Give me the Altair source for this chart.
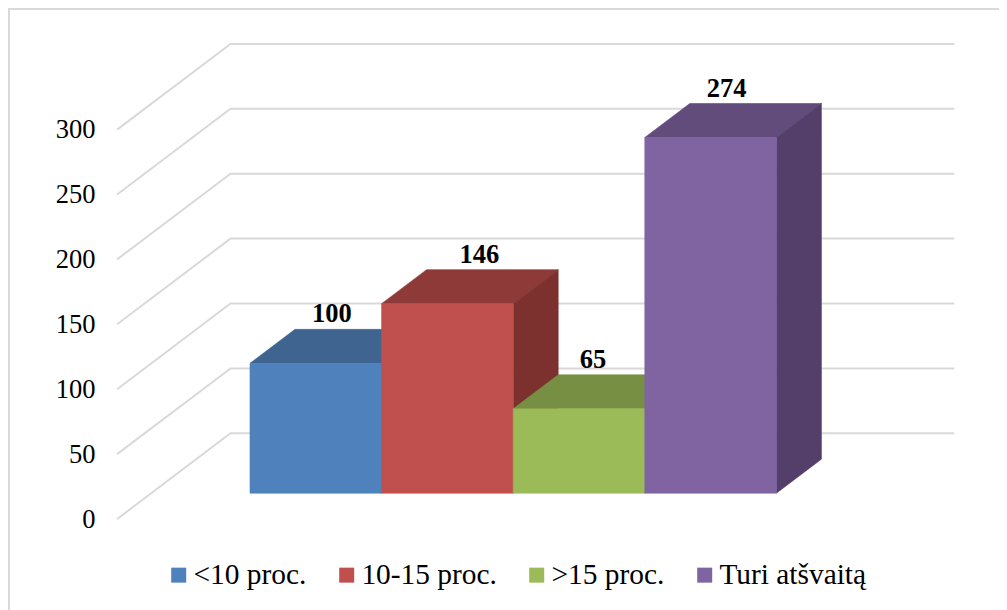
import altair as alt
import pandas as pd

categories = ["<10 proc.", "10-15 proc.", ">15 proc.", "Turi atšvaitą"]
values = [100, 146, 65, 274]
front_colors = ["#4F81BD", "#C0504D", "#9BBB59", "#8064A2"]
top_colors = ["#3F648F", "#8E3A38", "#778F42", "#624C7C"]
side_colors = ["#355478", "#7C312F", "#647838", "#533F69"]
ticks = [0, 50, 100, 150, 200, 250, 300]

# picture geometry
W, H = 991, 602
CAT_PX, VAL_PX = 131.6, 1.298
ORIGIN_X, ORIGIN_Y = 215.8, 519.0
DEPTH_X, DEPTH_Y = 45 / CAT_PX, 34 / VAL_PX
BAR_Z0, BAR_Z1, WALL_Z = 0.76, 1.76, 2.52
FLOOR_L, FLOOR_R = -0.75, 4.75
FONT = "Liberation Serif"


def px(cat, z):
    return cat + z * DEPTH_X


def py(val, z):
    return val + z * DEPTH_Y


xs = alt.Scale(domain=[(8 - ORIGIN_X) / CAT_PX, (8 + W - ORIGIN_X) / CAT_PX], range=[0, W], nice=False, zero=False)
ys = alt.Scale(domain=[(ORIGIN_Y - 8 - H) / VAL_PX, (ORIGIN_Y - 8) / VAL_PX], range=[H, 0], nice=False, zero=False)
X = alt.X("x:Q", scale=xs, axis=None)
Y = alt.Y(
    "y:Q",
    scale=ys,
    title=None,
    axis=alt.Axis(
        values=ticks, domain=False, ticks=False, grid=False, labelPadding=-87,
        labelFont=FONT, labelFontSize=26.5, labelColor="#000000", labelBound=False,
        labelFlush=False, labelOverlap=False,
    ),
)

layers = []

# walls and gridlines
grid_rows = []
for t in ticks:
    grid_rows += [
        {"t": t, "o": 0, "x": px(FLOOR_L, 0), "y": py(t, 0)},
        {"t": t, "o": 1, "x": px(FLOOR_L, WALL_Z), "y": py(t, WALL_Z)},
        {"t": t, "o": 2, "x": px(FLOOR_R, WALL_Z), "y": py(t, WALL_Z)},
    ]
layers.append(
    alt.Chart(pd.DataFrame(grid_rows))
    .mark_line(color="#D9D9D9", strokeWidth=2)
    .encode(x=X, y=Y, order="o:Q", detail="t:N")
)

color = alt.Color(
    "cat:N",
    scale=alt.Scale(domain=categories, range=front_colors),
    legend=alt.Legend(
        title=None, orient="none", legendX=156, legendY=552, direction="horizontal",
        symbolType="square", symbolSize=225, symbolStrokeWidth=0, symbolOpacity=1,
        labelFont=FONT, labelFontSize=29.4, labelColor="#000000", labelOffset=0,
        columnPadding=25, labelLimit=300, padding=0,
    ),
)

for i, (c, v) in enumerate(zip(categories, values)):
    top = pd.DataFrame({
        "y": [py(v, BAR_Z0), py(v, BAR_Z1)],
        "x": [px(i, BAR_Z0), px(i, BAR_Z1)],
        "x2": [px(i + 1, BAR_Z0), px(i + 1, BAR_Z1)],
    })
    layers.append(
        alt.Chart(top)
        .mark_area(orient="horizontal", color=top_colors[i], stroke=top_colors[i], strokeWidth=0.6)
        .encode(y=Y, x=X, x2="x2:Q")
    )
    side = pd.DataFrame({
        "x": [px(i + 1, BAR_Z0), px(i + 1, BAR_Z1)],
        "y": [py(v, BAR_Z0), py(v, BAR_Z1)],
        "y2": [py(0, BAR_Z0), py(0, BAR_Z1)],
    })
    layers.append(
        alt.Chart(side)
        .mark_area(color=side_colors[i], stroke=side_colors[i], strokeWidth=0.6)
        .encode(x=X, y=Y, y2="y2:Q")
    )
    front = pd.DataFrame({
        "cat": [c],
        "x": [px(i, BAR_Z0)], "x2": [px(i + 1, BAR_Z0)],
        "y": [py(0, BAR_Z0)], "y2": [py(v, BAR_Z0)],
    })
    layers.append(
        alt.Chart(front)
        .mark_rect(stroke=front_colors[i], strokeWidth=0.6)
        .encode(x=X, x2="x2:Q", y=Y, y2="y2:Q", color=color)
    )

# value labels
label_dx = [-29, -13, -31, -29]
for i, v in enumerate(values):
    d = pd.DataFrame({"x": [px(i + 0.5, BAR_Z1)], "y": [py(v, BAR_Z1)], "t": [str(v)]})
    layers.append(
        alt.Chart(d).mark_text(
            font=FONT, fontSize=26.5, fontWeight="bold", color="#000000",
            baseline="middle", align="center", dx=label_dx[i], dy=-15,
        ).encode(x=X, y=Y, text="t:N")
    )

# chart frame
layers.append(
    alt.Chart(pd.DataFrame({"a": [0]})).mark_rule(color="#D9D9D9", strokeWidth=2)
    .encode(x=alt.value(0), x2=alt.value(W), y=alt.value(1))
)
layers.append(
    alt.Chart(pd.DataFrame({"a": [0]})).mark_rule(color="#D9D9D9", strokeWidth=2)
    .encode(x=alt.value(1), y=alt.value(1), y2=alt.value(H))
)

chart = (
    alt.layer(*layers)
    .properties(width=W, height=H, padding=0, autosize=alt.AutoSizeParams(type="none"), background="#FFFFFF")
    .configure_view(stroke=None)
)
chart.save("out.html", embed_options={"renderer": "svg", "actions": False})
